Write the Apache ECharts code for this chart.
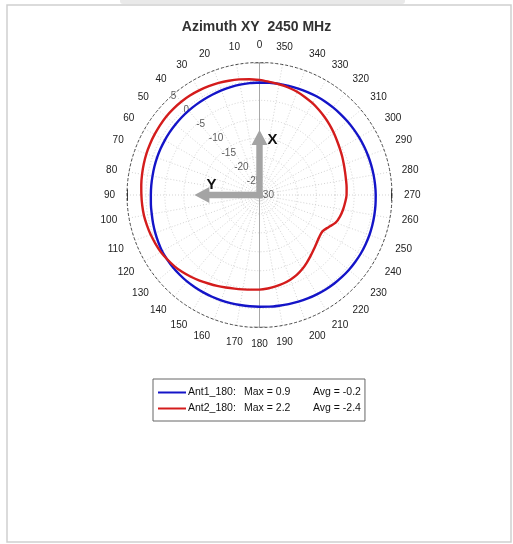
<!DOCTYPE html>
<html>
<head>
<meta charset="utf-8">
<script src="https://cdn.jsdelivr.net/npm/echarts@6/dist/echarts.min.js"></script>
<style>
  html, body { margin: 0; padding: 0; background: #fff; }
  #chart { width: 513px; height: 544px; }
</style>
</head>
<body>
<div id="chart"></div>
<script>
// Azimuth angles (deg, counter-clockwise from top)
const angleDeg = [
  0, 5, 10, 15, 20, 25, 30, 35, 40, 45, 50, 55, 60, 65, 70, 75, 80, 85,
  90, 95, 100, 105, 110, 115, 120, 125, 130, 135, 140, 145, 150, 155, 160, 165, 170, 175,
  180, 185, 190, 195, 200, 205, 210, 215, 220, 225, 230, 235, 240, 245, 250, 255, 260, 265,
  270, 275, 280, 285, 290, 295, 300, 305, 310, 315, 320, 325, 330, 335, 340, 345, 350, 355
];
// Gain in dBi
const ant1Gain = [
  -0.3, -0.35, -0.4, -0.5, -0.6, -0.7, -0.8, -0.85, -0.9, -0.95, -1.0, -1.05, -1.1, -1.15, -1.2, -1.25, -1.3, -1.3,
  -1.3, -1.2, -1.1, -0.9, -0.7, -0.5, -0.3, -0.25, -0.2, -0.2, -0.2, -0.25, -0.3, -0.35, -0.4, -0.45, -0.5, -0.5,
  -0.5, -0.4, -0.3, -0.15, 0.0, 0.15, 0.3, 0.45, 0.6, 0.7, 0.8, 0.85, 0.9, 0.9, 0.9, 0.85, 0.8, 0.75,
  0.7, 0.65, 0.6, 0.55, 0.5, 0.45, 0.4, 0.35, 0.3, 0.25, 0.2, 0.15, 0.1, 0.0, -0.1, -0.15, -0.2, -0.25
];
const ant2Gain = [
  0.4, 0.7, 1.0, 1.25, 1.5, 1.7, 1.9, 2.05, 2.15, 2.2, 2.2, 2.1, 2.0, 1.9, 1.8, 1.65, 1.5, 1.35,
  1.2, 1.1, 1.0, 0.8, 0.6, 0.35, 0.1, -0.3, -0.7, -1.2, -1.8, -2.4, -3.0, -3.5, -4.0, -4.4, -4.7, -4.9,
  -5.0, -5.2, -5.5, -5.8, -6.2, -6.7, -7.4, -8.2, -9.0, -9.7, -10.3, -10.7, -10.8, -9.9, -8.6, -8.0, -7.6, -7.3,
  -7.0, -6.9, -6.8, -6.6, -6.3, -5.9, -5.5, -5.0, -4.4, -3.8, -3.2, -2.6, -2.0, -1.5, -1.0, -0.6, -0.3, 0.0
];
const seriesNames = ['Ant1_180', 'Ant2_180'];
const maxGain = ['0.9', '2.2'];
const avgGain = ['-0.2', '-2.4'];
const seriesColors = ['#1414c8', '#d41c1c'];

// Radial scale and its labels
const radiusMin = -30, radiusMax = 5, radiusStep = 5;
const radialLabelValues = [5, 0, -5, -10, -15, -20, -25, -30];
const radialLabelAngle = 42;
// Cardinal marks on the outer ring
const cardinalAngles = [0, 90, 180, 270];
const cardinalColors = ['#8a8a8a', '#111', '#8a8a8a', '#111'];

const FONT = '"Liberation Sans", Arial, sans-serif';

function closedLoop(gains) {
  const pts = angleDeg.map((a, i) => [gains[i], a]);
  pts.push([gains[0], 360]);
  return pts;
}

const gainSeries = [ant1Gain, ant2Gain].map((g, i) => ({
  name: seriesNames[i],
  type: 'line',
  coordinateSystem: 'polar',
  data: closedLoop(g),
  smooth: 0.3,
  showSymbol: false,
  symbol: 'none',
  lineStyle: { color: seriesColors[i], width: 2.4 },
  itemStyle: { color: seriesColors[i] },
  z: 5
}));

// Solid 0-180 axis through the centre
const axisSeries = [
  { type: 'line', coordinateSystem: 'polar', silent: true, symbol: 'none',
    data: [[radiusMax, 0], [radiusMin, 0]], lineStyle: { color: '#a8a8a8', width: 1 }, z: 2 },
  { type: 'line', coordinateSystem: 'polar', silent: true, symbol: 'none',
    data: [[radiusMin, 180], [radiusMax, 180]], lineStyle: { color: '#a8a8a8', width: 1 }, z: 2 }
];

const cardinalSeries = cardinalAngles.map((a, i) => ({
  type: 'line', coordinateSystem: 'polar', silent: true, symbol: 'none',
  data: [[radiusMax, a - 2.5], [radiusMax, a], [radiusMax, a + 2.5]],
  lineStyle: { color: cardinalColors[i], width: 1.6 }, z: 3
}));

const radialLabelSeries = {
  type: 'scatter',
  coordinateSystem: 'polar',
  silent: true,
  symbolSize: 0,
  data: radialLabelValues.map(v => [v, radialLabelAngle]),
  label: {
    show: true, position: 'right', distance: 0,
    formatter: p => String(p.value[0]),
    color: '#333', fontSize: 10, fontFamily: FONT
  },
  z: 4
};

const chart = echarts.init(document.getElementById('chart'), null, { renderer: 'canvas' });

const option = {
  backgroundColor: '#fff',
  animation: false,
  title: {
    text: 'Azimuth XY  2450 MHz',
    left: 'center', top: 15,
    textStyle: { fontFamily: FONT, fontSize: 14, fontWeight: 'bold', color: '#333' }
  },
  polar: { center: [259.5, 195], radius: 132.5 },
  angleAxis: {
    type: 'value', min: 0, max: 360, interval: 10,
    startAngle: 90, clockwise: false,
    axisLine: { show: true, lineStyle: { color: '#222', width: 0.8, type: [3, 2] } },
    axisTick: { show: false },
    axisLabel: {
      margin: 12, fontSize: 10, color: '#222', fontFamily: FONT,
      formatter: v => (v >= 360 ? '' : String(v))
    },
    splitLine: { show: true, lineStyle: { color: '#c8c8c8', width: 0.8, type: [1, 2] } }
  },
  radiusAxis: {
    type: 'value', min: radiusMin, max: radiusMax, interval: radiusStep,
    axisLine: { show: false }, axisTick: { show: false }, axisLabel: { show: false },
    splitLine: { show: true, showMaxLine: false, lineStyle: { color: '#c8c8c8', width: 0.8, type: [1, 2] } }
  },
  legend: {
    data: seriesNames,
    orient: 'vertical',
    left: 153, top: 379,
    padding: [8, 4, 7, 5],
    itemGap: 5,
    itemWidth: 28, itemHeight: 2,
    icon: 'rect',
    borderColor: '#666', borderWidth: 1,
    backgroundColor: '#fff',
    selectedMode: false,
    formatter: name => {
      const i = seriesNames.indexOf(name);
      return '{n|' + name + ':}{m|Max = ' + maxGain[i] + '}{a|Avg = ' + avgGain[i] + '}';
    },
    textStyle: {
      fontFamily: FONT, fontSize: 10.5, color: '#111', padding: [0, 0, 0, -3],
      rich: {
        n: { width: 56, fontFamily: FONT, fontSize: 10.5, color: '#111' },
        m: { width: 69, fontFamily: FONT, fontSize: 10.5, color: '#111' },
        a: { fontFamily: FONT, fontSize: 10.5, color: '#111' }
      }
    }
  },
  series: [...axisSeries, ...cardinalSeries, radialLabelSeries, ...gainSeries]
};

chart.setOption(option);

// Coordinate-frame arrows (X up, Y left) drawn from the polar centre
const arrowReach = -12.8;
const c = chart.convertToPixel({ seriesIndex: 0 }, [radiusMin, 0]);
const tipX = chart.convertToPixel({ seriesIndex: 0 }, [arrowReach, 0]);
const tipY = chart.convertToPixel({ seriesIndex: 0 }, [arrowReach, 90]);
const shaftHalf = 3.2, headHalf = 8, headLen = 15;
const arrowFill = '#a4a4a4';

chart.setOption({
  graphic: [
    { type: 'rect', shape: { x: 120, y: -4, width: 285, height: 8, r: 3 },
      style: { fill: '#e9e9e9' }, z: 0, silent: true },
    { type: 'rect', shape: { x: 7, y: 5, width: 504, height: 537 },
      style: { fill: 'none', stroke: '#cfcfcf', lineWidth: 1.5 }, z: 0, silent: true },
    { type: 'polygon', z: 100, silent: true,
      shape: { points: [
        [c[0] - shaftHalf, c[1] + shaftHalf],
        [c[0] - shaftHalf, tipX[1] + headLen],
        [c[0] - headHalf, tipX[1] + headLen],
        [c[0], tipX[1]],
        [c[0] + headHalf, tipX[1] + headLen],
        [c[0] + shaftHalf, tipX[1] + headLen],
        [c[0] + shaftHalf, c[1] + shaftHalf]
      ] },
      style: { fill: arrowFill } },
    { type: 'polygon', z: 100, silent: true,
      shape: { points: [
        [c[0] + shaftHalf, c[1] - shaftHalf],
        [tipY[0] + headLen, c[1] - shaftHalf],
        [tipY[0] + headLen, c[1] - headHalf],
        [tipY[0], c[1]],
        [tipY[0] + headLen, c[1] + headHalf],
        [tipY[0] + headLen, c[1] + shaftHalf],
        [c[0] + shaftHalf, c[1] + shaftHalf]
      ] },
      style: { fill: arrowFill } },
    { type: 'text', z: 101, silent: true, x: c[0] + 8, y: tipX[1] + 2,
      style: { text: 'X', font: 'bold 15px ' + FONT, fill: '#111' } },
    { type: 'text', z: 101, silent: true, x: tipY[0] + 12, y: c[1] - 18,
      style: { text: 'Y', font: 'bold 15px ' + FONT, fill: '#111' } }
  ]
});
</script>
</body>
</html>
